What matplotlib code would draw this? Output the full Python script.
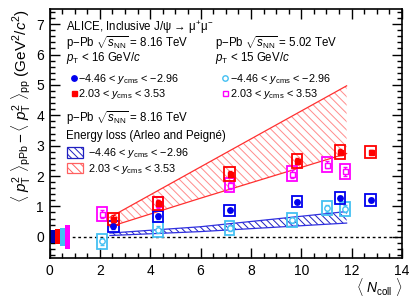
import numpy as np
import matplotlib.pyplot as plt
from matplotlib.lines import Line2D
from matplotlib.patches import Patch

plt.rcParams['font.family'] = ['Liberation Sans', 'DejaVu Sans']
plt.rcParams['mathtext.fontset'] = 'custom'
plt.rcParams['mathtext.rm'] = 'Liberation Sans'
plt.rcParams['mathtext.it'] = 'Liberation Sans:italic'
plt.rcParams['mathtext.bf'] = 'Liberation Sans:bold'
plt.rcParams['hatch.linewidth'] = 0.7

# --- data: p-Pb 8.16 TeV ---
ncoll_816 = [2.54, 4.31, 7.15, 9.83, 11.53, 12.75]
bwd_816 = [0.34, 0.67, 0.87, 1.16, 1.27, 1.22]
bwd_816_stat = [0.08, 0.07, 0.06, 0.06, 0.07, 0.06]
bwd_816_sys = [0.18, 0.19, 0.19, 0.19, 0.20, 0.20]
fwd_816 = [0.58, 1.10, 2.07, 2.50, 2.79, 2.79]
fwd_816_stat = [0.12, 0.10, 0.10, 0.10, 0.10, 0.08]
fwd_816_sys = [0.19, 0.22, 0.22, 0.24, 0.23, 0.20]

# --- data: p-Pb 5.02 TeV ---
ncoll_502 = [2.08, 4.31, 7.15, 9.63, 11.03, 11.73]
bwd_502 = [-0.15, 0.23, 0.29, 0.56, 0.94, 0.92]
bwd_502_stat = [0.12, 0.12, 0.10, 0.10, 0.11, 0.12]
bwd_502_sys = [0.25, 0.24, 0.22, 0.23, 0.23, 0.24]
fwd_502 = [0.75, 1.08, 1.69, 2.07, 2.37, 2.15]
fwd_502_stat = [0.12, 0.12, 0.12, 0.12, 0.12, 0.14]
fwd_502_sys = [0.22, 0.22, 0.23, 0.25, 0.25, 0.25]

# --- global (correlated) uncertainties, drawn at N_coll ~ 0 ---
glob_x = [0.11, 0.32, 0.51, 0.70]
glob_err = [0.21, 0.25, 0.30, 0.40]

# --- energy loss model (Arleo and Peigne) ---
model_x = [2.40, 6.00, 11.80]
model_bwd_lo = [0.04, 0.17, 0.45]
model_bwd_hi = [0.12, 0.33, 0.83]
model_fwd_lo = [0.33, 1.27, 2.74]
model_fwd_hi = [0.64, 2.30, 4.97]

c_blue = '#0000ee'
c_red = '#ff0000'
c_cyan = '#44c0f2'
c_mag = '#ff00ff'
c_glob_blue = '#0000b0'

fig = plt.figure(figsize=(4.15, 2.98), dpi=100)
ax = fig.add_axes([49.5 / 415, 40 / 298, 352.5 / 415, 249 / 298])

ax.axhline(0, color='black', ls=(0, (2, 2)), lw=1.0, zorder=1)

# global uncertainty boxes
ax.bar(glob_x, [2 * e for e in glob_err], bottom=[-e for e in glob_err], width=0.2,
       color=[c_glob_blue, c_red, c_cyan, c_mag], linewidth=0, zorder=2)

# model bands
ax.fill_between(model_x, model_fwd_lo, model_fwd_hi, facecolor='none', edgecolor='#ff8c8c',
                hatch='\\\\\\\\', linewidth=0, zorder=2)
ax.plot(model_x, model_fwd_lo, color='#ff3030', lw=0.9, zorder=2)
ax.plot(model_x, model_fwd_hi, color='#ff3030', lw=0.9, zorder=2)
ax.fill_between(model_x, model_bwd_lo, model_bwd_hi, facecolor='none', edgecolor='#2020c0',
                hatch='\\\\\\\\\\', linewidth=0, zorder=2)
ax.plot(model_x, model_bwd_lo, color='#3030e0', lw=0.9, zorder=2)
ax.plot(model_x, model_bwd_hi, color='#3030e0', lw=0.9, zorder=2)


def draw_series(x, y, stat, sys, color, marker, filled, width, z):
    ax.bar(x, [2 * s for s in sys], bottom=[v - s for v, s in zip(y, sys)], width=width,
           fill=False, edgecolor=color, linewidth=1.3, zorder=z)
    ax.errorbar(x, y, yerr=stat, fmt='none', ecolor=color, elinewidth=1.0,
                capsize=1.5, capthick=1.0, zorder=z)
    ax.plot(x, y, ls='none', marker=marker, ms=3.9 if marker == 'o' else 3.6,
            mfc=color if filled else 'white', mec=color, mew=1.0, zorder=z + 0.5)


draw_series(ncoll_502, fwd_502, fwd_502_stat, fwd_502_sys, c_mag, 's', False, 0.38, 3)
draw_series(ncoll_502, bwd_502, bwd_502_stat, bwd_502_sys, c_cyan, 'o', False, 0.38, 3)
draw_series(ncoll_816, bwd_816, bwd_816_stat, bwd_816_sys, c_blue, 'o', True, 0.42, 4)
draw_series(ncoll_816, fwd_816, fwd_816_stat, fwd_816_sys, c_red, 's', True, 0.42, 4)

ax.set_xlim(0, 14)
ax.set_ylim(-0.7, 7.5)
ax.set_xticks(np.arange(0, 15, 2))
ax.set_xticks(np.arange(0, 14.01, 0.5), minor=True)
ax.set_yticks(np.arange(0, 8, 1))
ax.set_yticks(np.arange(-0.6, 7.5, 0.2), minor=True)
ax.tick_params(which='both', direction='in', top=True, right=True, labelsize=10, width=1.0)
ax.tick_params(which='major', length=7, pad=4)
ax.tick_params(which='minor', length=3.5)
for sp in ax.spines.values():
    sp.set_linewidth(1.2)

ax.set_xlabel(r'$\langle\ N_{\rm coll}\ \rangle$', loc='right', fontsize=10, labelpad=-1)
ax.set_ylabel(r'$\langle\ p_{\rm T}^{2}\ \rangle_{\rm pPb} - \langle\ p_{\rm T}^{2}\ \rangle_{\rm pp}$ (GeV$^{2}$/$c^{2}$)',
              loc='top', fontsize=11, labelpad=2)

fs = 8.3
ax.text(0.047, 0.925, r'ALICE, Inclusive J/ψ → μ$^{+}$μ$^{-}$', transform=ax.transAxes,
        fontsize=fs, va='center')
ax.text(0.047, 0.863, r'p$-$Pb $\sqrt{s_{\rm NN}}$ = 8.16 TeV', transform=ax.transAxes, fontsize=fs, va='center')
ax.text(0.047, 0.803, r'$p_{\rm T}$ < 16 GeV/$c$', transform=ax.transAxes, fontsize=fs, va='center')
ax.text(0.47, 0.863, r'p$-$Pb $\sqrt{s_{\rm NN}}$ = 5.02 TeV', transform=ax.transAxes, fontsize=fs, va='center')
ax.text(0.47, 0.803, r'$p_{\rm T}$ < 15 GeV/$c$', transform=ax.transAxes, fontsize=fs, va='center')
ax.text(0.047, 0.563, r'p$-$Pb $\sqrt{s_{\rm NN}}$ = 8.16 TeV', transform=ax.transAxes, fontsize=fs, va='center')
ax.text(0.047, 0.49, r'Energy loss (Arleo and Peigné)', transform=ax.transAxes, fontsize=fs, va='center')

lab_bwd = r'$-$4.46 < $y_{\rm cms}$ < $-$2.96'
lab_fwd = r'2.03 < $y_{\rm cms}$ < 3.53'
common = dict(frameon=False, fontsize=7.8, borderpad=0, borderaxespad=0, handletextpad=0.1,
              labelspacing=0.05, loc='upper left')

h816 = [Line2D([], [], ls='none', marker='o', ms=3.9, mfc=c_blue, mec=c_blue),
        Line2D([], [], ls='none', marker='s', ms=3.6, mfc=c_red, mec=c_red)]
leg1 = ax.legend(h816, [lab_bwd, lab_fwd], bbox_to_anchor=(0.06, 0.746), handlelength=0.6, **common)
ax.add_artist(leg1)

h502 = [Line2D([], [], ls='none', marker='o', ms=3.9, mfc='white', mec=c_cyan),
        Line2D([], [], ls='none', marker='s', ms=3.6, mfc='white', mec=c_mag)]
leg2 = ax.legend(h502, [lab_bwd, lab_fwd], bbox_to_anchor=(0.49, 0.746), handlelength=0.6, **common)
ax.add_artist(leg2)

hmod = [Patch(facecolor='none', edgecolor='#2020c0', hatch='\\\\\\\\\\', lw=0.9),
        Patch(facecolor='none', edgecolor='#ff6060', hatch='\\\\\\\\', lw=0.9)]
ax.legend(hmod, [lab_bwd, lab_fwd], bbox_to_anchor=(0.05, 0.45), handlelength=1.5,
          handleheight=1.15, **dict(common, handletextpad=0.4, labelspacing=0.15))

fig.savefig('out.png', dpi=100)
